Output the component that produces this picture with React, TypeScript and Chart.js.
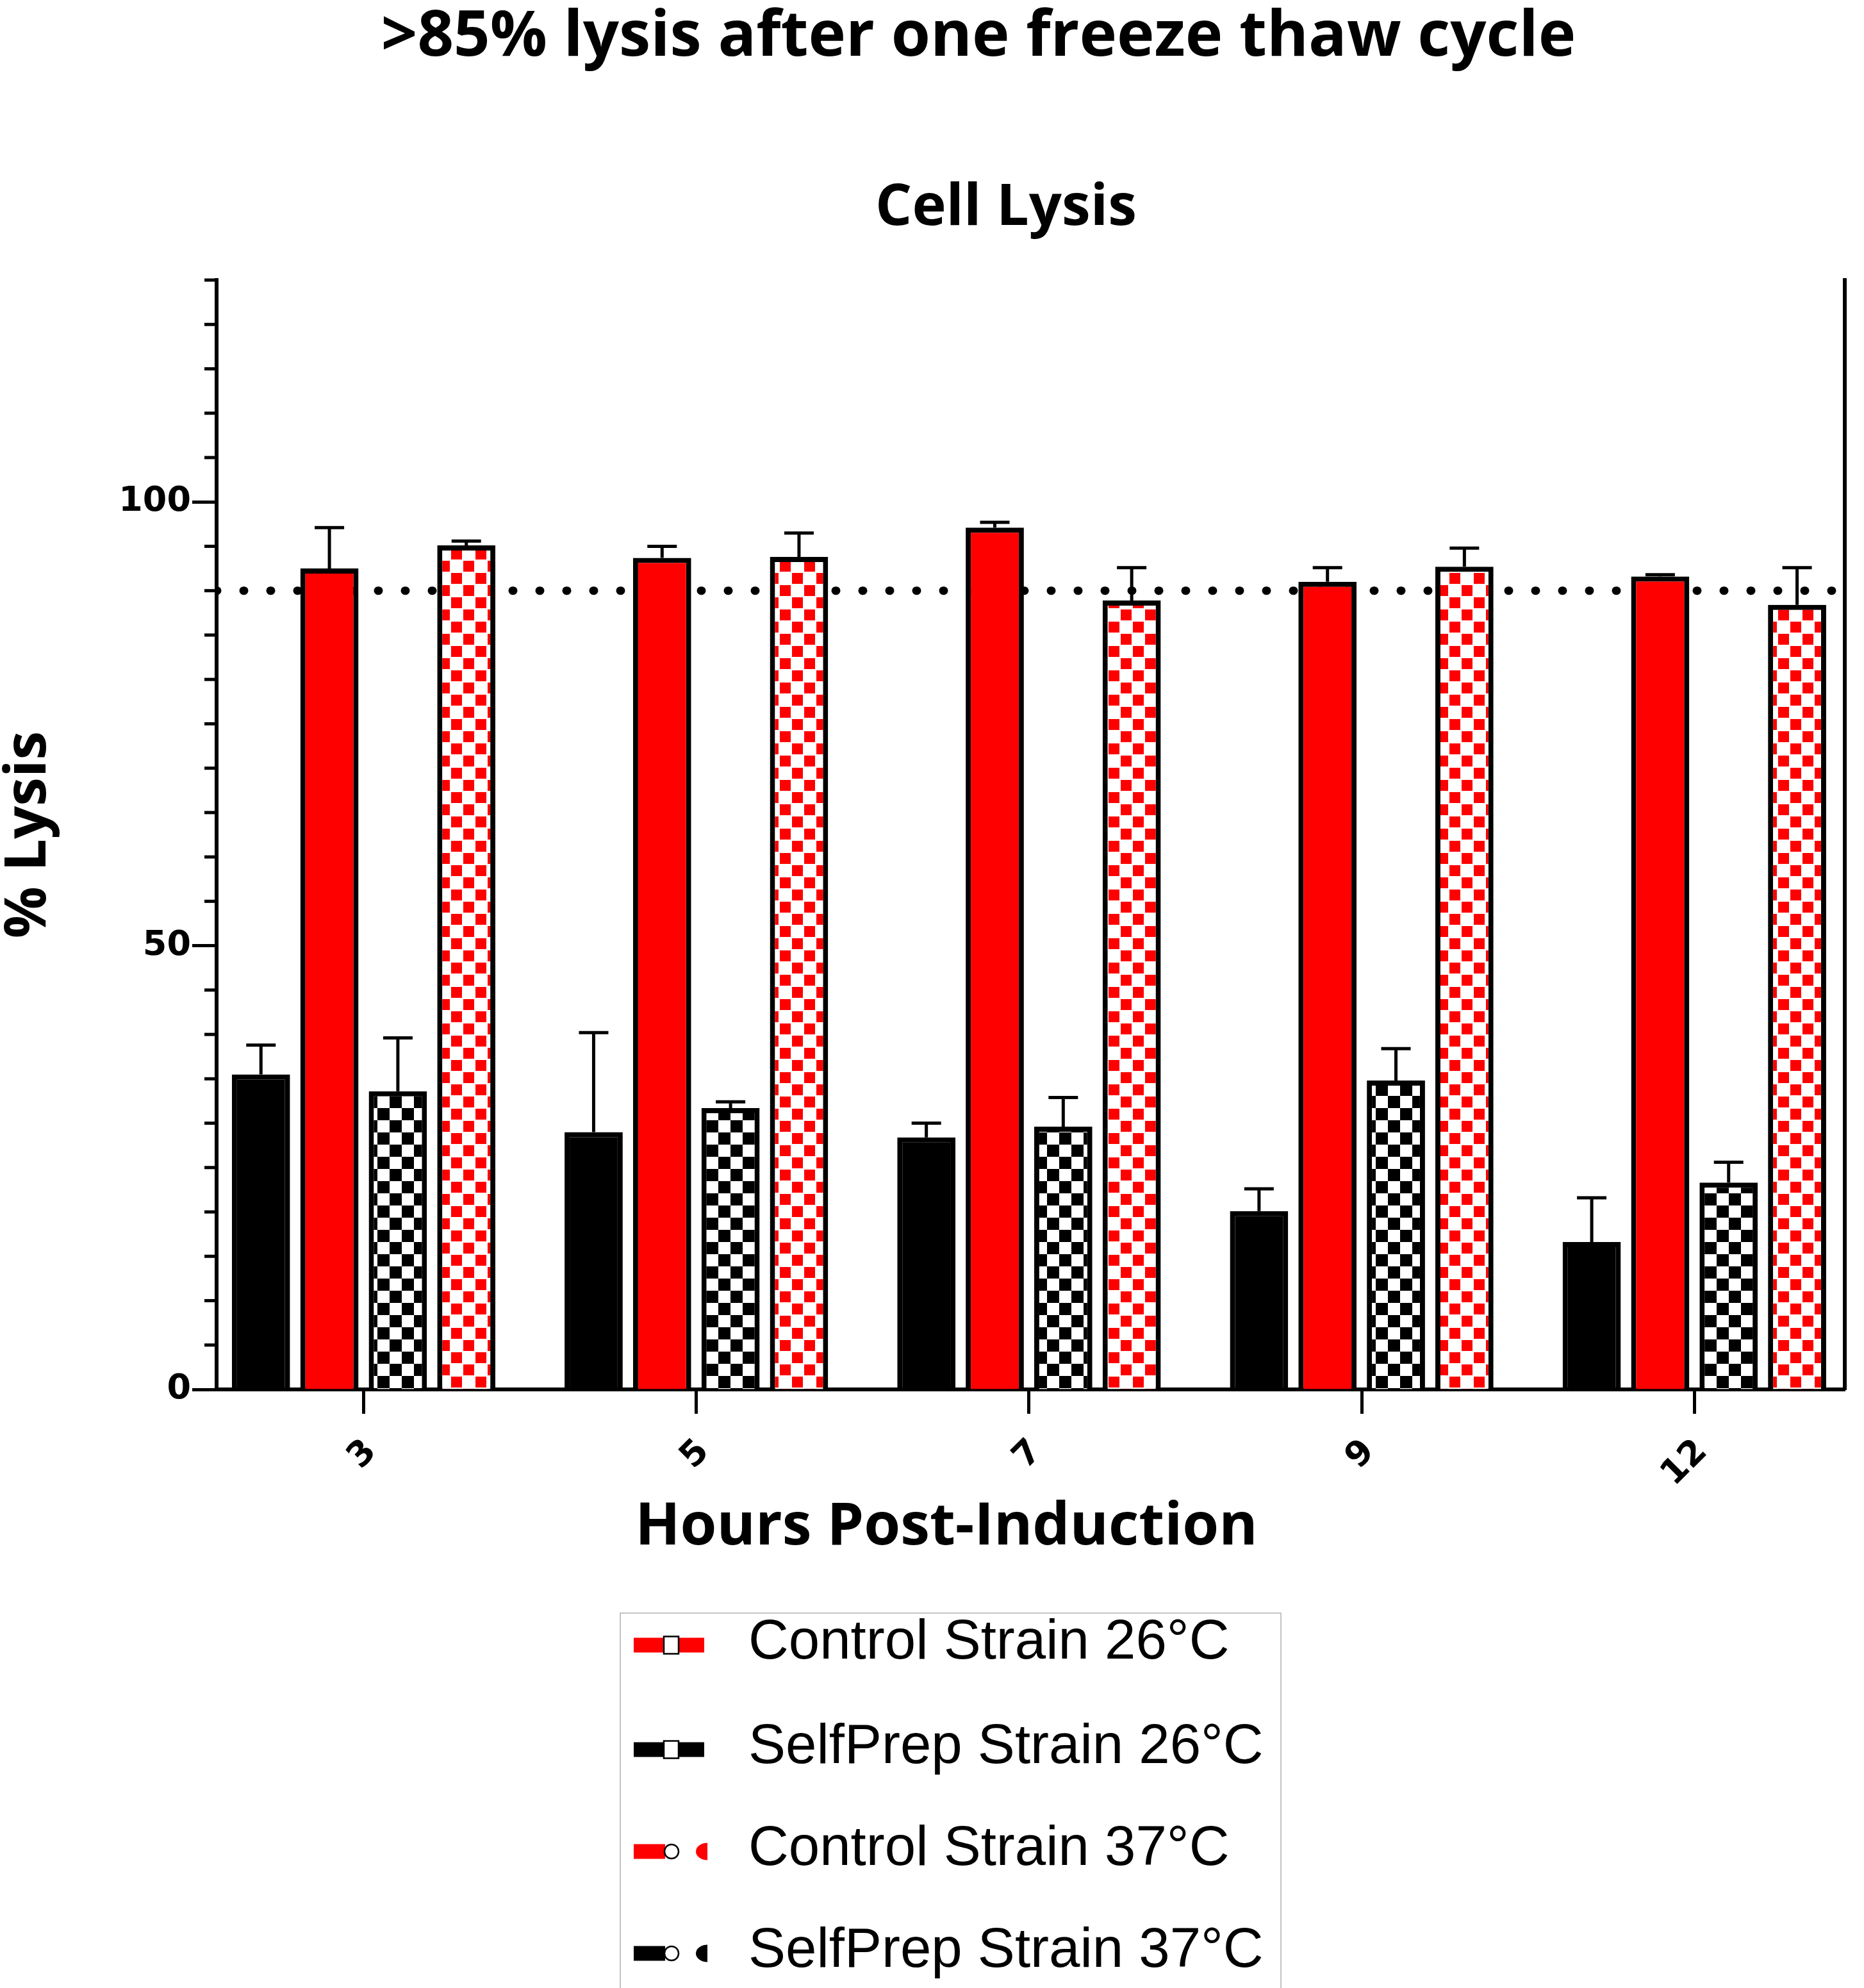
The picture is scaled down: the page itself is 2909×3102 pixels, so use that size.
import { useEffect, useRef } from "react"
import { Chart, registerables } from "chart.js"

// Register Chart.js components
Chart.register(...registerables)

// Hours post-induction (x categories)
const hours = ["3", "5", "7", "9", "12"]

// % lysis, mean and upper error per series
const selfPrep26 = [35.5, 29.0, 28.4, 20.1, 16.6]
const selfPrep26Err = [3.3, 11.2, 1.6, 2.5, 5.0]
const control26 = [92.5, 93.7, 97.1, 91.0, 91.6]
const control26Err = [4.6, 1.3, 0.6, 1.6, 0.2]
const selfPrep37 = [33.6, 31.7, 29.6, 34.8, 23.3]
const selfPrep37Err = [6.0, 0.7, 3.3, 3.6, 2.3]
const control37 = [95.1, 93.8, 88.9, 92.7, 88.4]
const control37Err = [0.5, 2.7, 3.7, 2.1, 4.2]

// dotted reference line
const threshold = 90

// y axis
const yMax = 125
const yMinorStep = 5
const yMajorStep = 50

// x range around the categories
const xMin = -0.442
const xMax = 4.452

const RED = "#FF0000"
const BLACK = "#000000"

function checker(color: string, cell: number, inset: number) {
  const c = document.createElement("canvas")
  c.width = cell * 2
  c.height = cell * 2
  const g = c.getContext("2d")!
  g.fillStyle = "#ffffff"
  g.fillRect(0, 0, cell * 2, cell * 2)
  g.fillStyle = color
  g.fillRect(inset, inset, cell - inset * 2, cell - inset * 2)
  g.fillRect(cell + inset, cell + inset, cell - inset * 2, cell - inset * 2)
  return g.createPattern(c, "repeat")!
}

const toPoints = (values: number[]) => values.map((v, i) => ({ x: i, y: v }))

// upward error bars drawn from each bar's top
const errorBars = {
  id: "errorBars",
  afterDatasetsDraw(chart: any) {
    const { ctx } = chart
    const yScale = chart.scales.y
    chart.data.datasets.forEach((ds: any, di: number) => {
      if (!ds.errors) return
      const meta = chart.getDatasetMeta(di)
      meta.data.forEach((bar: any, i: number) => {
        const top = yScale.getPixelForValue(ds.data[i].y + ds.errors[i])
        ctx.save()
        ctx.strokeStyle = BLACK
        ctx.lineWidth = 5
        ctx.beginPath()
        ctx.moveTo(bar.x, bar.y)
        ctx.lineTo(bar.x, top)
        ctx.moveTo(bar.x - 23, top)
        ctx.lineTo(bar.x + 23, top)
        ctx.stroke()
        ctx.restore()
      })
    })
  },
}

// short minor ticks on the left axis
const minorTicks = {
  id: "minorTicks",
  afterDraw(chart: any) {
    const { ctx } = chart
    const yScale = chart.scales.y
    ctx.save()
    ctx.strokeStyle = BLACK
    ctx.lineWidth = 5
    yScale.ticks.forEach((t: any) => {
      if (t.value % yMajorStep === 0) return
      const py = yScale.getPixelForValue(t.value)
      ctx.beginPath()
      ctx.moveTo(yScale.right - 19, py)
      ctx.lineTo(yScale.right, py)
      ctx.stroke()
    })
    ctx.restore()
  },
}

const legendItems = [
  { label: "Control Strain 26°C", color: RED, hot: false },
  { label: "SelfPrep Strain 26°C", color: BLACK, hot: false },
  { label: "Control Strain 37°C", color: RED, hot: true },
  { label: "SelfPrep Strain 37°C", color: BLACK, hot: true },
]
const legendRows = [2557, 2720, 2879, 3038]

function LegendSymbol({ color, hot }: { color: string; hot: boolean }) {
  return (
    <svg width={125} height={40} viewBox="0 0 125 40">
      {hot ? (
        <>
          <rect x={4} y={8.5} width={49} height={23} fill={color} />
          <circle cx={63} cy={20} r={11} fill="#fff" stroke="#000" strokeWidth={2.5} />
          <path d="M 119 6.5 A 18 13.5 0 0 0 119 33.5 Z" fill={color} />
        </>
      ) : (
        <>
          <rect x={4} y={8.5} width={110} height={23} fill={color} />
          <rect x={51} y={6.5} width={23} height={27} fill="#fff" stroke="#000" strokeWidth={2.5} />
        </>
      )}
    </svg>
  )
}

const textStyle = (size: number): React.CSSProperties => ({
  position: "absolute",
  transform: "translate(-50%, -50%)",
  fontFamily: "'Open Sans'",
  fontWeight: 700,
  fontSize: size,
  lineHeight: 1,
  whiteSpace: "nowrap",
  color: "#000",
})

export default function App() {
  const chartRef = useRef<HTMLCanvasElement>(null)
  const chartInstance = useRef<Chart | null>(null)

  useEffect(() => {
    if (!chartRef.current) return
    if (chartInstance.current) chartInstance.current.destroy()

    const ctx = chartRef.current.getContext("2d")
    if (!ctx) return

    const blackCheck = checker(BLACK, 19, 0)
    const redCheck = checker(RED, 19, 1)

    const barStyle = {
      type: "bar" as const,
      borderColor: BLACK,
      borderWidth: 8,
      categoryPercentage: 0.823,
      barPercentage: 0.85,
      order: 1,
    }

    chartInstance.current = new Chart(ctx, {
      type: "bar",
      data: {
        datasets: [
          { ...barStyle, label: "SelfPrep Strain 26°C", data: toPoints(selfPrep26), errors: selfPrep26Err, backgroundColor: BLACK } as any,
          { ...barStyle, label: "Control Strain 26°C", data: toPoints(control26), errors: control26Err, backgroundColor: RED } as any,
          { ...barStyle, label: "SelfPrep Strain 37°C", data: toPoints(selfPrep37), errors: selfPrep37Err, backgroundColor: blackCheck } as any,
          { ...barStyle, label: "Control Strain 37°C", data: toPoints(control37), errors: control37Err, backgroundColor: redCheck } as any,
          {
            type: "line",
            label: "threshold",
            data: [
              { x: xMin, y: threshold },
              { x: xMax, y: threshold },
            ],
            borderColor: BLACK,
            borderWidth: 13,
            borderDash: [1, 41],
            borderCapStyle: "round",
            pointRadius: 0,
            order: 5,
          } as any,
        ],
      },
      options: {
        animation: false,
        responsive: true,
        maintainAspectRatio: false,
        layout: { padding: { top: 437, left: 0, right: 0, bottom: 0 } },
        plugins: {
          legend: { display: false },
          tooltip: { enabled: false },
        },
        scales: {
          x: {
            type: "linear",
            min: xMin,
            max: xMax,
            offset: false,
            afterBuildTicks: (axis: any) => {
              axis.ticks = hours.map((_, i) => ({ value: i }))
            },
            afterFit: (axis: any) => {
              axis.height = 292
            },
            border: { display: true, color: BLACK, width: 6 },
            grid: { offset: false, drawOnChartArea: false, tickLength: 38, tickWidth: 5, tickColor: BLACK },
            ticks: {
              color: BLACK,
              minRotation: 45,
              maxRotation: 45,
              padding: 28,
              labelOffset: 12,
              autoSkip: false,
              font: { family: "'DejaVu Sans'", weight: "bold", size: 54 },
              callback: (v: any) => hours[v] ?? "",
            },
          },
          y: {
            position: "left",
            min: 0,
            max: yMax,
            afterFit: (axis: any) => {
              axis.width = 338
            },
            border: { display: true, color: BLACK, width: 6 },
            grid: {
              drawOnChartArea: false,
              tickLength: 38,
              tickWidth: 5,
              tickColor: (c: any) => (c.tick && c.tick.value % yMajorStep === 0 ? BLACK : "rgba(0,0,0,0)"),
            },
            ticks: {
              stepSize: yMinorStep,
              padding: 2,
              color: BLACK,
              font: { family: "'DejaVu Sans'", weight: "bold", size: 54 },
              callback: (v: any) => (v % yMajorStep === 0 ? String(v) : ""),
            },
            title: {
              display: true,
              text: "% Lysis",
              color: BLACK,
              padding: 0,
              font: { family: "'Open Sans'", weight: "bold", size: 90, lineHeight: 1 },
            },
          },
          y2: {
            position: "right",
            min: 0,
            max: yMax,
            afterFit: (axis: any) => {
              axis.width = 30
            },
            border: { display: true, color: BLACK, width: 6 },
            grid: { display: false, drawTicks: false },
            ticks: { display: false },
          },
        },
      },
      plugins: [errorBars, minorTicks],
    })

    return () => {
      if (chartInstance.current) {
        chartInstance.current.destroy()
        chartInstance.current = null
      }
    }
  }, [])

  return (
    <div style={{ position: "absolute", left: 0, top: 0, width: 2909, height: 3102, overflow: "hidden", background: "#fff" }}>
      <div style={{ ...textStyle(99), left: 1527, top: 48 }}>&gt;85% lysis after one freeze thaw cycle</div>
      <div style={{ ...textStyle(90), left: 1570, top: 316 }}>Cell Lysis</div>
      <div style={{ position: "absolute", left: 0, top: 0, width: 2909, height: 2460 }}>
        <canvas ref={chartRef} />
      </div>
      <div style={{ ...textStyle(92), left: 1477, top: 2375 }}>Hours Post-Induction</div>
      <div
        style={{
          position: "absolute",
          left: 967,
          top: 2516,
          width: 1033,
          height: 700,
          border: "2px solid #c4c4c4",
          boxSizing: "border-box",
        }}
      />
      {legendItems.map((item, i) => (
        <div key={item.label}>
          <div style={{ position: "absolute", left: 985, top: legendRows[i] - 10 }}>
            <LegendSymbol color={item.color} hot={item.hot} />
          </div>
          <div
            style={{
              position: "absolute",
              left: 1168,
              top: legendRows[i],
              transform: "translateY(-50%)",
              fontFamily: "'Liberation Sans'",
              fontSize: 87,
              lineHeight: 1,
              whiteSpace: "nowrap",
              color: "#000",
            }}
          >
            {item.label}
          </div>
        </div>
      ))}
    </div>
  )
}
